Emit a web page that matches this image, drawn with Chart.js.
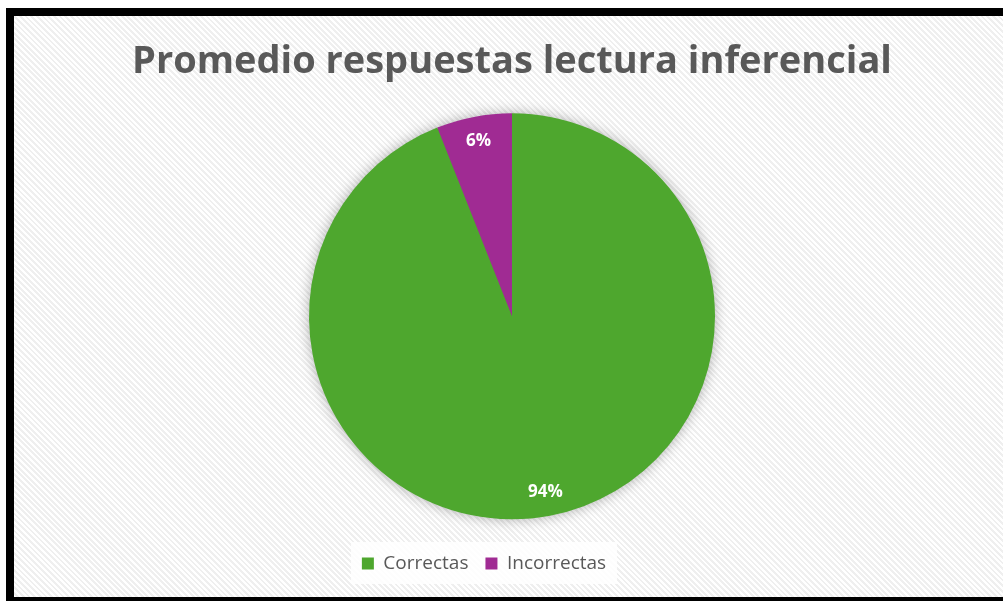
<!DOCTYPE html>
<html>
<head>
<meta charset="utf-8">
<script src="https://cdn.jsdelivr.net/npm/chart.js@4"></script>
<style>
    html, body { margin: 0; padding: 0; background: #fff; width: 1003px; height: 601px; overflow: hidden; }
    .marco {
        position: absolute; left: 6px; top: 8px; width: 1010px; height: 597px;
        border: 8px solid #000; box-sizing: border-box; overflow: hidden;
        background: repeating-linear-gradient(45deg, #ffffff 0px, #ffffff 2px, #efefef 2px, #efefef 4px);
    }
    .marco canvas { position: absolute; left: 0; top: 0; }
</style>
</head>
<body>
<div class="marco">
    <canvas id="lecturaChart" width="989" height="591"></canvas>
</div>
<script>
const categorias = ["Correctas", "Incorrectas"];
const porcentajes = [94, 6];
const colores = ["#4EA72E", "#A02B93"];

const fuente = "'Open Sans', Roboto, sans-serif";

// sombra suave detrás del pastel
const sombraPastel = {
    id: "sombraPastel",
    beforeDatasetsDraw(chart) {
        const arc = chart.getDatasetMeta(0).data[0];
        if (!arc) return;
        const { x, y, outerRadius } = arc.getProps(["x", "y", "outerRadius"], true);
        const ctx = chart.ctx;
        ctx.save();
        ctx.shadowColor = "rgba(0,0,0,0.35)";
        ctx.shadowBlur = 14;
        ctx.beginPath();
        ctx.arc(x, y, outerRadius - 1, 0, Math.PI * 2);
        ctx.fillStyle = colores[0];
        ctx.fill();
        ctx.restore();
    }
};

// etiquetas de porcentaje dentro de cada porción
const etiquetas = {
    id: "etiquetas",
    afterDatasetsDraw(chart) {
        const ctx = chart.ctx;
        const datos = chart.data.datasets[0].data;
        const total = datos.reduce((a, b) => a + b, 0);
        ctx.save();
        ctx.fillStyle = "#ffffff";
        ctx.font = "bold 17px " + fuente;
        ctx.textAlign = "center";
        ctx.textBaseline = "middle";
        chart.getDatasetMeta(0).data.forEach((arc, i) => {
            const p = arc.getProps(["x", "y", "startAngle", "endAngle", "outerRadius"], true);
            const medio = (p.startAngle + p.endAngle) / 2;
            const r = p.outerRadius * 0.88;
            ctx.fillText(Math.round(datos[i] / total * 100) + "%", p.x + Math.cos(medio) * r, p.y + Math.sin(medio) * r);
        });
        ctx.restore();
    }
};

// leyenda un poco a la izquierda, con fondo claro
const ajusteLeyenda = {
    id: "ajusteLeyenda",
    afterLayout(chart) {
        chart.legend.left -= 28;
        chart.legend.right -= 28;
    },
    beforeDraw(chart) {
        const cajas = chart.legend.legendHitBoxes;
        if (!cajas || !cajas.length) return;
        const izq = cajas[0].left - 11;
        const der = cajas[cajas.length - 1].left + cajas[cajas.length - 1].width + 11;
        const arriba = cajas[0].top - 12;
        const ctx = chart.ctx;
        ctx.save();
        ctx.fillStyle = "rgba(255,255,255,0.85)";
        ctx.fillRect(izq, arriba, der - izq, 42);
        ctx.restore();
    }
};

new Chart(document.getElementById("lecturaChart"), {
    type: "pie",
    data: {
        labels: categorias,
        datasets: [{
            data: porcentajes,
            backgroundColor: colores,
            borderWidth: 0,
            radius: 203
        }]
    },
    options: {
        responsive: false,
        animation: false,
        layout: { padding: { left: 7, right: 0, top: 0, bottom: 24 } },
        plugins: {
            title: {
                display: true,
                text: "Promedio respuestas lectura inferencial",
                color: "#595959",
                font: { family: fuente, size: 38, weight: "bold", lineHeight: 1.2 },
                padding: { top: 23, bottom: 11 }
            },
            legend: {
                position: "bottom",
                labels: {
                    color: "#595959",
                    font: { family: fuente, size: 19 },
                    boxWidth: 12,
                    boxHeight: 12,
                    padding: 17
                }
            },
            tooltip: { enabled: false }
        }
    },
    plugins: [sombraPastel, etiquetas, ajusteLeyenda]
});
</script>
</body>
</html>
